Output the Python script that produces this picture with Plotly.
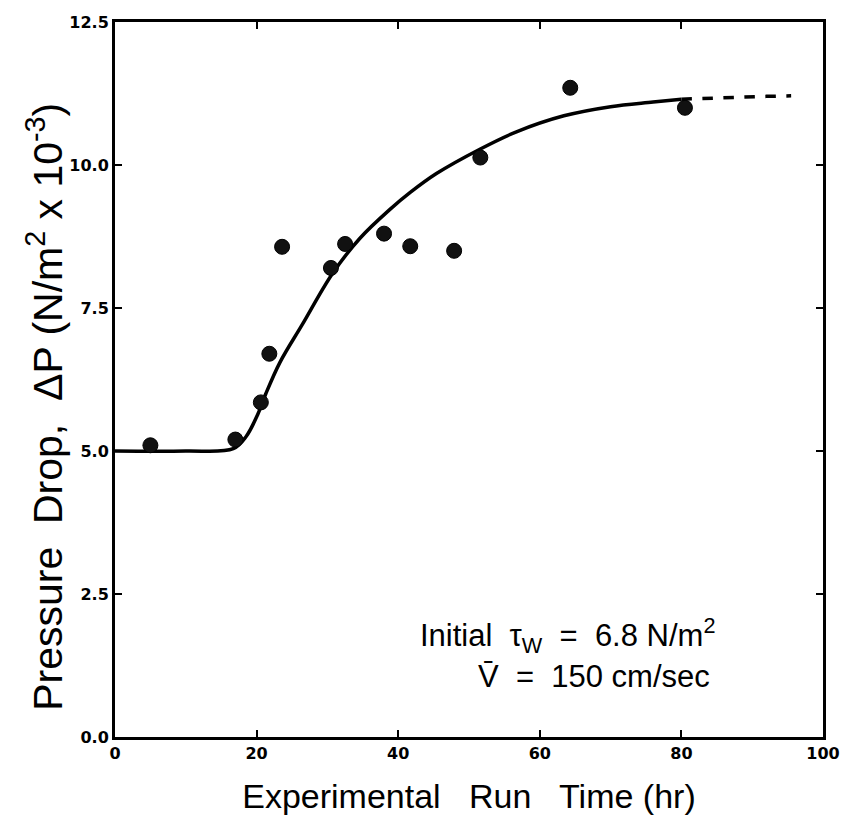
import plotly.graph_objects as go

# Measured data points
run_time = [5, 17, 20.6, 21.8, 23.6, 30.5, 32.5, 38, 41.7, 47.9, 51.6, 64.3, 80.5]
pressure_drop = [5.1, 5.2, 5.85, 6.7, 8.57, 8.2, 8.62, 8.8, 8.58, 8.5, 10.13, 11.35, 11.0]

# Fitted curve (solid part)
curve_x = [0, 10, 16.7, 18.5, 20.2, 21.3, 23.3, 26.4, 30.7, 34.6, 38.8, 41.7, 45.4, 51.6, 56.7, 63.4, 70, 76, 80]
curve_y = [5.0, 5.0, 5.04, 5.25, 5.65, 6.0, 6.55, 7.2, 8.1, 8.72, 9.22, 9.52, 9.85, 10.28, 10.58, 10.86, 11.02, 11.1, 11.15]
# Dashed extrapolation
dash_x = [80, 84, 88, 92, 95.5]
dash_y = [11.15, 11.17, 11.19, 11.2, 11.21]

x_ticks = [0, 20, 40, 60, 80, 100]
y_ticks = [0, 2.5, 5.0, 7.5, 10.0, 12.5]
y_tick_labels = ["0.0", "2.5", "5.0", "7.5", "10.0", "12.5"]

FONT = "Liberation Sans, Arial, sans-serif"
TICKFONT = dict(family="DejaVu Sans", size=16, color="black", weight="bold")

fig = go.Figure()
fig.add_trace(go.Scatter(x=curve_x, y=curve_y, mode="lines",
                         line=dict(color="black", width=3.5, shape="spline", smoothing=1.0),
                         hoverinfo="skip", showlegend=False))
fig.add_trace(go.Scatter(x=dash_x, y=dash_y, mode="lines",
                         line=dict(color="black", width=3.5, dash="dash"),
                         hoverinfo="skip", showlegend=False))
fig.add_trace(go.Scatter(x=run_time, y=pressure_drop, mode="markers",
                         marker=dict(color="#111111", size=15, line=dict(color="black", width=1)),
                         showlegend=False))

fig.add_annotation(x=85.0, y=1.78, xref="x", yref="y", xanchor="right", yanchor="middle",
                   text="Initial\u00a0\u00a0τ<sub>W</sub>\u00a0 =\u00a0 6.8 N/m<sup>2</sup>", showarrow=False,
                   font=dict(family=FONT, size=31, color="black"))
fig.add_annotation(x=84.3, y=1.06, xref="x", yref="y", xanchor="right", yanchor="middle",
                   text="V\u0304\u00a0 =\u00a0 150 cm/sec", showarrow=False,
                   font=dict(family=FONT, size=31, color="black"))

# y-axis title (placed as rotated annotation to match its offset in the reference)
fig.add_annotation(x=-0.1, y=0.462, xref="paper", yref="paper", xanchor="center", yanchor="middle",
                   textangle=-90, showarrow=False,
                   text="Pressure\u00a0 Drop,\u00a0 ΔP (N/m<sup>2</sup> x 10<sup>-3</sup>)",
                   font=dict(family=FONT, size=41, color="black"))

fig.update_layout(
    width=852, height=828,
    margin=dict(l=115, r=22, t=22, b=91),
    paper_bgcolor="white", plot_bgcolor="white",
    font=dict(family=FONT, color="black"),
)
fig.update_xaxes(range=[0, 100], tickvals=x_ticks, ticktext=[str(v) for v in x_ticks],
                 showgrid=False, zeroline=False, showline=True, linecolor="black", linewidth=3,
                 mirror="ticks", ticks="inside", ticklen=7, tickwidth=2, tickcolor="black",
                 tickfont=TICKFONT,
                 title=dict(text="Experimental\u00a0\u00a0 Run\u00a0\u00a0 Time (hr)",
                            font=dict(family=FONT, size=34, color="black"), standoff=22))
fig.update_yaxes(range=[0, 12.5], tickvals=y_ticks, ticktext=y_tick_labels,
                 showgrid=False, zeroline=False, showline=True, linecolor="black", linewidth=3,
                 mirror="ticks", ticks="inside", ticklen=7, tickwidth=2, tickcolor="black",
                 tickfont=TICKFONT)

fig.write_html("out.html")
